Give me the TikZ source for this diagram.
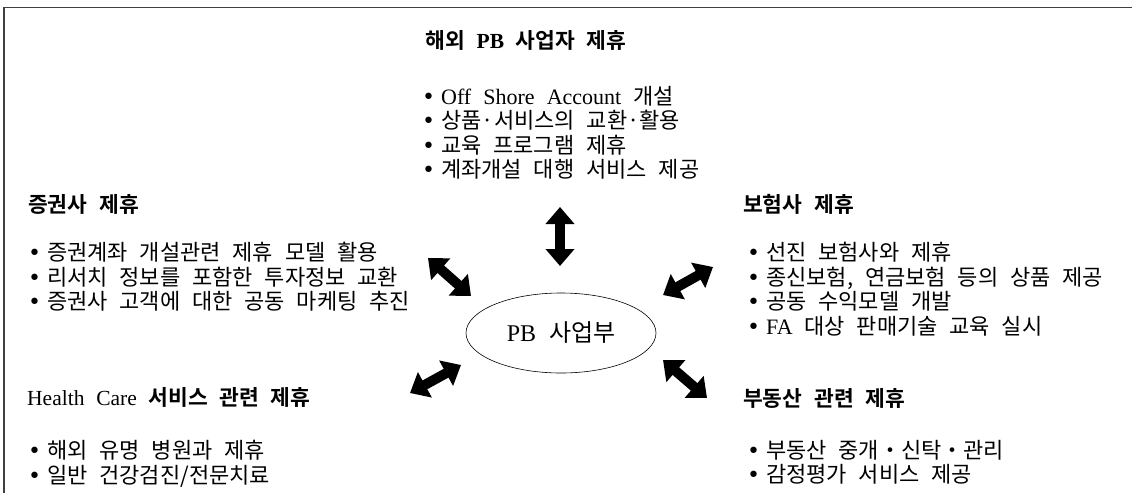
\documentclass[tikz,border=0pt]{standalone}
\usepackage{fontspec}
\setmainfont{Noto Sans CJK KR}[WordSpace=2.4, BoldFont={Noto Sans CJK KR Bold}]
\newfontfamily\lat{Liberation Serif}[WordSpace=2.2]
\newfontfamily\dv{DejaVu Sans}
\usetikzlibrary{arrows.meta,shapes.geometric}
\newcommand\bul{{\dv •}\hspace{6pt}}
\tikzset{
  txt/.style={inner sep=0pt, font=\fontsize{22}{24.5}\selectfont, align=left, anchor=north west},
  hdr/.style={inner sep=0pt, font=\fontsize{21.5}{24}\selectfont\bfseries, anchor=west},
  dbl/.style={line width=10pt, {Triangle[length=17pt,width=28pt]}-{Triangle[length=17pt,width=28pt]}},
  frame/.style={line width=1.6pt, black!75}
}
\begin{document}
\begin{tikzpicture}[x=1pt,y=-1pt]
\useasboundingbox (0,0) rectangle (1132,493);
\draw[frame] (4,493) -- (4,7.5) -- (1132,7.5);

% centre
\node[ellipse, draw, line width=0.6pt, minimum width=190pt, minimum height=80pt, inner sep=0pt,
      font=\fontsize{24}{28}\selectfont] (pb) at (561,333) {{\lat PB} 사업부};

% top group
\node[hdr, anchor=center] (toph) at (526,40) {해외 {\lat PB} 사업자 제휴};
\node[txt] (topb) at (422,86) {\bul{\lat Off Shore Account} 개설\\
\bul 상품·서비스의 교환·활용\\
\bul 교육 프로그램 제휴\\
\bul 계좌개설 대행 서비스 제공};

% left group
\node[hdr] (lh) at (28,204) {증권사 제휴};
\node[txt] (lb) at (28,242) {\bul 증권계좌 개설관련 제휴 모델 활용\\
\bul 리서치 정보를 포함한 투자정보 교환\\
\bul 증권사 고객에 대한 공동 마케팅 추진};

% right group
\node[hdr] (rh) at (743,204) {보험사 제휴};
\node[txt] (rb) at (747,242) {\bul 선진 보험사와 제휴\\
\bul 종신보험, 연금보험 등의 상품 제공\\
\bul 공동 수익모델 개발\\
\bul{\lat FA} 대상 판매기술 교육 실시};

% bottom-left group
\node[hdr] (blh) at (27,397) {{\lat\mdseries Health Care} 서비스 관련 제휴};
\node[txt] (blb) at (28,440) {\bul 해외 유명 병원과 제휴\\
\bul 일반 건강검진/전문치료};

% bottom-right group
\node[hdr] (brh) at (743,398) {부동산 관련 제휴};
\node[txt] (brb) at (747,440) {\bul 부동산 중개・신탁・관리\\
\bul 감정평가 서비스 제공};

% arrow end points
\coordinate (t1) at (560,207); \coordinate (t2) at (560,266);
\coordinate (ul1) at (428,258); \coordinate (ul2) at (471,296);
\coordinate (ur1) at (663,295); \coordinate (ur2) at (713,267);
\coordinate (ll1) at (410,393); \coordinate (ll2) at (461,365);
\coordinate (lr1) at (663,360); \coordinate (lr2) at (707,398);

\draw[dbl] (t1) -- (t2);
\draw[dbl] (ul1) -- (ul2);
\draw[dbl] (ur1) -- (ur2);
\draw[dbl] (ll1) -- (ll2);
\draw[dbl] (lr1) -- (lr2);
\end{tikzpicture}
\end{document}
